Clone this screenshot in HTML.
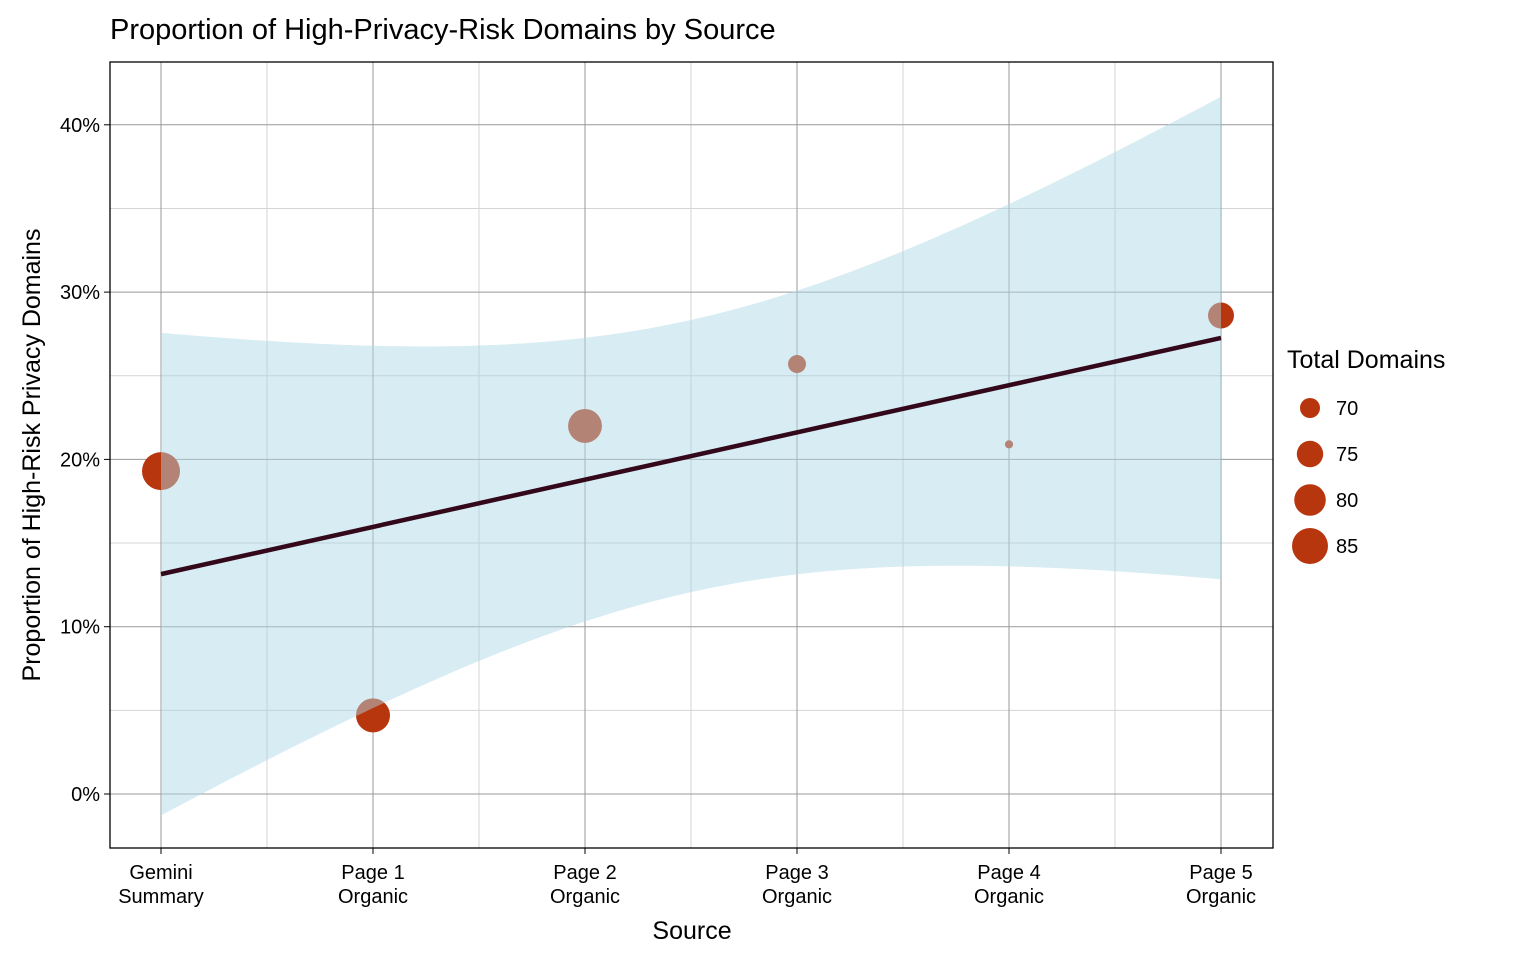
<!DOCTYPE html>
<html><head><meta charset="utf-8"><style>
body{margin:0;background:#fff;font-family:"Liberation Sans",Arial,sans-serif}
svg text{font-family:"Liberation Sans",Arial,sans-serif}
</style></head><body>
<svg id="c" width="1536" height="960" xmlns="http://www.w3.org/2000/svg">
<text x="110" y="39" font-size="29" fill="#000">Proportion of High-Privacy-Risk Domains by Source</text>
<g id="grid"></g><g id="pts"></g><g id="rib"></g><g id="ln"></g>
<rect x="110" y="62" width="1163" height="786" fill="none" stroke="#000" stroke-width="1.3"/>
<g id="ax"></g>
<text x="692" y="939" font-size="25" text-anchor="middle">Source</text>
<text transform="translate(40,455) rotate(-90)" font-size="25" text-anchor="middle">Proportion of High-Risk Privacy Domains</text>
<g id="leg"></g>
</svg>
<script>
const categories=[["Gemini","Summary"],["Page 1","Organic"],["Page 2","Organic"],["Page 3","Organic"],["Page 4","Organic"],["Page 5","Organic"]];
const proportions=[19.3,4.7,22.0,25.7,20.9,28.6];
const totals=[87.5,82.7,82.5,68.7,64.4,74.6];
const yTicks=[0,10,20,30,40];
const legendSizes=[70,75,80,85];
const NS="http://www.w3.org/2000/svg";
const X=i=>161+i*212, Y=v=>794-v*16.73;
const R=t=>Math.sqrt(Math.max(4,100+14.9*(t-70)));
function mk(p,tag,a){const e=document.createElementNS(NS,tag);for(const k in a)e.setAttribute(k,a[k]);document.getElementById(p).appendChild(e);return e;}
for(let v=5;v<43;v+=10){const e=mk('grid','line',{x1:110,x2:1273,y1:Y(v),y2:Y(v),stroke:'#d4d4d4','stroke-width':1});

}
for(let i=0.5;i<5;i++){const e=mk('grid','line',{x1:X(i),x2:X(i),y1:62,y2:848,stroke:'#d4d4d4','stroke-width':1});

}
yTicks.forEach(v=>{const e=mk('grid','line',{x1:110,x2:1273,y1:Y(v),y2:Y(v),stroke:'#999','stroke-width':1});


const t=mk('ax','text',{x:100,y:Y(v)+7,'font-size':20,'text-anchor':'end'});t.textContent=v+'%';


const k=mk('ax','line',{x1:104,x2:110,y1:Y(v),y2:Y(v),stroke:'#000'});

});
categories.forEach((c,i)=>{const e=mk('grid','line',{x1:X(i),x2:X(i),y1:62,y2:848,stroke:'#999','stroke-width':1});


const k=mk('ax','line',{x1:X(i),x2:X(i),y1:848,y2:854,stroke:'#000'});


c.forEach((s,j)=>{const t=mk('ax','text',{x:X(i),y:879+j*24,'font-size':20,'text-anchor':'middle'});t.textContent=s;

});});
proportions.forEach((p,i)=>{const e=mk('pts','circle',{cx:X(i),cy:Y(p),r:R(totals[i]),fill:'#B8360E'});

});
const n=proportions.length,xs=proportions.map((_,i)=>i),xm=(n-1)/2,ym=proportions.reduce((a,b)=>a+b)/n;
let sxx=0,sxy=0;xs.forEach((x,i)=>{sxx+=(x-xm)**2;sxy+=(x-xm)*(proportions[i]-ym);});
const b=sxy/sxx,a=ym-b*xm;let ss=0;xs.forEach((x,i)=>{ss+=(proportions[i]-a-b*x)**2;});
const s=Math.sqrt(ss/(n-2)),tq=2.776;
let up=[],lo=[];for(let k=0;k<=100;k++){const x=k*(n-1)/100,f=a+b*x,h=tq*s*Math.sqrt(1/n+(x-xm)**2/sxx);up.push(X(x)+','+Y(f+h));lo.unshift(X(x)+','+Y(f-h));}
const rb=mk('rib','polygon',{points:up.concat(lo).join(' '),fill:'rgb(173,216,230)','fill-opacity':0.48});


const l=mk('ln','line',{x1:X(0),y1:Y(a),x2:X(n-1),y2:Y(a+b*(n-1)),stroke:'#33081A','stroke-width':4.5});


const lt=mk('leg','text',{x:1287,y:368,'font-size':25});lt.textContent='Total Domains';


legendSizes.forEach((v,i)=>{const y=408+i*46;const c=mk('leg','circle',{cx:1310,cy:y,r:R(v),fill:'#B8360E'});


const t=mk('leg','text',{x:1336,y:y+7,'font-size':20});t.textContent=v;

});
</script>
</body></html>
